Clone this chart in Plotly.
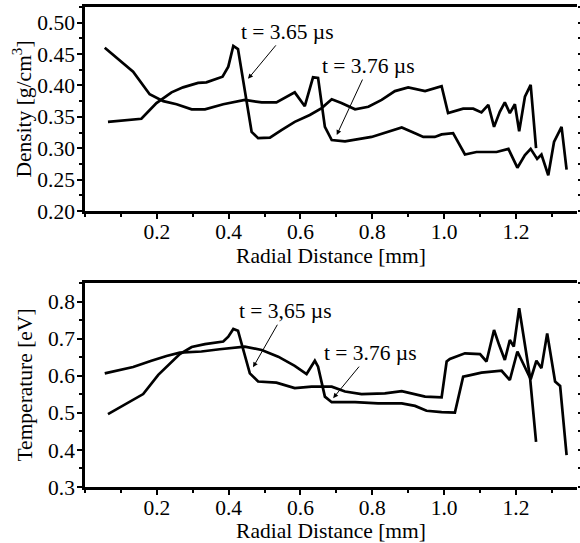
import plotly.graph_objects as go

# density profiles [g/cm^3] vs radial distance [mm]
r_dens_365 = [0.064, 0.157, 0.199, 0.241, 0.273, 0.315, 0.338, 0.383, 0.399, 0.413, 0.426, 0.459, 0.464,
              0.482, 0.515, 0.547, 0.584, 0.626, 0.659, 0.687, 0.714, 0.752, 0.789, 0.826, 0.863, 0.900,
              0.947, 0.993, 1.011, 1.053, 1.081, 1.104, 1.123, 1.139, 1.155, 1.169, 1.183, 1.197, 1.209,
              1.225, 1.241, 1.256]
dens_365 = [0.342, 0.347, 0.372, 0.389, 0.397, 0.404, 0.405, 0.414, 0.430, 0.463, 0.458, 0.337, 0.326,
            0.316, 0.317, 0.329, 0.342, 0.353, 0.364, 0.378, 0.372, 0.362, 0.366, 0.377, 0.391, 0.397,
            0.391, 0.399, 0.356, 0.363, 0.363, 0.357, 0.369, 0.334, 0.358, 0.373, 0.356, 0.370, 0.327,
            0.382, 0.401, 0.300]

r_dens_376 = [0.055, 0.134, 0.180, 0.218, 0.255, 0.297, 0.334, 0.385, 0.445, 0.492, 0.533, 0.584, 0.612,
              0.635, 0.649, 0.668, 0.687, 0.724, 0.798, 0.882, 0.919, 0.942, 0.974, 0.993, 1.025, 1.058,
              1.090, 1.146, 1.179, 1.204, 1.225, 1.241, 1.259, 1.271, 1.290, 1.306, 1.327, 1.341]
dens_376 = [0.460, 0.422, 0.386, 0.375, 0.370, 0.362, 0.362, 0.370, 0.377, 0.373, 0.373, 0.389, 0.367,
            0.413, 0.412, 0.334, 0.313, 0.311, 0.318, 0.333, 0.324, 0.318, 0.318, 0.322, 0.324, 0.290,
            0.294, 0.294, 0.299, 0.269, 0.289, 0.299, 0.283, 0.290, 0.257, 0.310, 0.334, 0.266]

# temperature profiles [eV]
r_temp_365 = [0.064, 0.125, 0.162, 0.204, 0.236, 0.264, 0.297, 0.334, 0.385, 0.399, 0.413, 0.426, 0.459,
              0.482, 0.533, 0.584, 0.631, 0.687, 0.724, 0.770, 0.835, 0.882, 0.947, 0.993, 1.007, 1.016,
              1.058, 1.100, 1.118, 1.139, 1.153, 1.169, 1.183, 1.194, 1.209, 1.225, 1.239, 1.256]
temp_365 = [0.497, 0.531, 0.551, 0.603, 0.634, 0.659, 0.678, 0.686, 0.693, 0.706, 0.727, 0.722, 0.607,
            0.585, 0.582, 0.567, 0.571, 0.571, 0.558, 0.551, 0.553, 0.559, 0.544, 0.542, 0.639, 0.646,
            0.661, 0.659, 0.639, 0.724, 0.684, 0.643, 0.697, 0.679, 0.783, 0.679, 0.598, 0.422]

r_temp_376 = [0.055, 0.134, 0.185, 0.227, 0.264, 0.324, 0.375, 0.445, 0.492, 0.538, 0.584, 0.617, 0.640,
              0.649, 0.668, 0.687, 0.752, 0.816, 0.882, 0.919, 0.951, 0.993, 1.030, 1.053, 1.067, 1.104,
              1.160, 1.183, 1.204, 1.225, 1.241, 1.257, 1.271, 1.287, 1.309, 1.323, 1.341]
temp_376 = [0.607, 0.624, 0.641, 0.654, 0.663, 0.666, 0.672, 0.679, 0.670, 0.652, 0.627, 0.605, 0.641,
            0.625, 0.544, 0.529, 0.529, 0.526, 0.526, 0.519, 0.506, 0.502, 0.501, 0.598, 0.601, 0.609,
            0.614, 0.589, 0.666, 0.623, 0.591, 0.641, 0.621, 0.715, 0.585, 0.573, 0.386]

FONT = "Liberation Serif, Times New Roman, Times, serif"
SIZE = 21.5
line = dict(color="black", width=2.7)

fig = go.Figure()
fig.add_trace(go.Scatter(x=r_dens_365, y=dens_365, mode="lines", line=line, xaxis="x", yaxis="y"))
fig.add_trace(go.Scatter(x=r_dens_376, y=dens_376, mode="lines", line=line, xaxis="x", yaxis="y"))
fig.add_trace(go.Scatter(x=r_temp_365, y=temp_365, mode="lines", line=line, xaxis="x2", yaxis="y2"))
fig.add_trace(go.Scatter(x=r_temp_376, y=temp_376, mode="lines", line=line, xaxis="x2", yaxis="y2"))

title_font = dict(family=FONT, size=SIZE, color="black")
xcommon = dict(range=[0, 1.37], tickvals=[0.2, 0.4, 0.6, 0.8, 1.0, 1.2], tickformat=".1f",
               showline=True, linecolor="black", linewidth=2.5, mirror=True,
               ticks="outside", ticklen=5, tickwidth=2, tickcolor="black",
               minor=dict(ticks="outside", ticklen=3, tickwidth=2, dtick=0.1, tick0=0, tickcolor="black"),
               showgrid=False, zeroline=False, ticklabelstandoff=-6, automargin=False)
ycommon = dict(showline=True, linecolor="black", linewidth=2.5,
               ticks="outside", ticklen=5, tickwidth=2, tickcolor="black",
               showgrid=False, zeroline=False, ticklabelstandoff=-2, automargin=False)

fig.update_layout(
    width=580, height=543,
    margin=dict(l=85, r=3, t=7, b=56),
    paper_bgcolor="white", plot_bgcolor="white",
    showlegend=False,
    font=dict(family=FONT, size=SIZE, color="black"),
    xaxis=dict(xcommon, anchor="y", domain=[0, 1],
               title=dict(text="Radial Distance [mm]", standoff=5, font=title_font)),
    xaxis2=dict(xcommon, anchor="y2", domain=[0, 1],
                title=dict(text="Radial Distance [mm]", standoff=1, font=title_font)),
    yaxis=dict(ycommon, anchor="x", domain=[0.575, 1], range=[0.2, 0.525],
               dtick=0.05, tick0=0.2, tickformat=".2f",
               minor=dict(ticks="outside", ticklen=3, tickwidth=2, dtick=0.025, tick0=0.2, tickcolor="black"),
               title=dict(text="Density [g/cm<sup>3</sup>]", standoff=0, font=title_font)),
    yaxis2=dict(ycommon, anchor="x2", domain=[0, 0.425], range=[0.3, 0.851],
                dtick=0.1, tick0=0.3, tickformat=".1f",
                minor=dict(ticks="outside", ticklen=3, tickwidth=2, dtick=0.05, tick0=0.3, tickcolor="black"),
                title=dict(text="Temperature [eV]", standoff=10, font=title_font)),
    # right-hand ticks without a frame line
    yaxis3=dict(overlaying="y", side="right", anchor="x", range=[0.2, 0.525], showline=False,
                showticklabels=False, showgrid=False, zeroline=False, automargin=False,
                ticks="outside", ticklen=4, tickwidth=2, tickcolor="black", dtick=0.05, tick0=0.2,
                minor=dict(ticks="outside", ticklen=3, tickwidth=1.5, dtick=0.025, tick0=0.2, tickcolor="black")),
    yaxis4=dict(overlaying="y2", side="right", anchor="x2", range=[0.3, 0.851], showline=False,
                showticklabels=False, showgrid=False, zeroline=False, automargin=False,
                ticks="outside", ticklen=4, tickwidth=2, tickcolor="black", dtick=0.1, tick0=0.3,
                minor=dict(ticks="outside", ticklen=3, tickwidth=1.5, dtick=0.05, tick0=0.3, tickcolor="black")),
)

# dummy traces so the right-hand tick axes are drawn
fig.add_trace(go.Scatter(x=[None], y=[None], xaxis="x", yaxis="y3", showlegend=False, hoverinfo="skip"))
fig.add_trace(go.Scatter(x=[None], y=[None], xaxis="x2", yaxis="y4", showlegend=False, hoverinfo="skip"))

arrow = dict(showarrow=True, arrowhead=2, arrowsize=1, arrowwidth=1, arrowcolor="black",
             font=dict(family=FONT, size=SIZE, color="black"))
fig.add_annotation(arrow, x=0.454, y=0.4105, xref="x", yref="y", ax=39, ay=-47, text="t = 3.65 µs")
fig.add_annotation(arrow, x=0.701, y=0.321, xref="x", yref="y", ax=32, ay=-69, text="t = 3.76 µs")
fig.add_annotation(arrow, x=0.468, y=0.6235, xref="x2", yref="y2", ax=32, ay=-56, text="t = 3,65 µs")
fig.add_annotation(arrow, x=0.691, y=0.540, xref="x2", yref="y2", ax=37, ay=-45, text="t = 3.76 µs")

# drop the default page margin so the 580x543 figure fills the window
fig.write_html("out.html", config={"displayModeBar": False},
               post_script="document.body.style.margin='0';")
